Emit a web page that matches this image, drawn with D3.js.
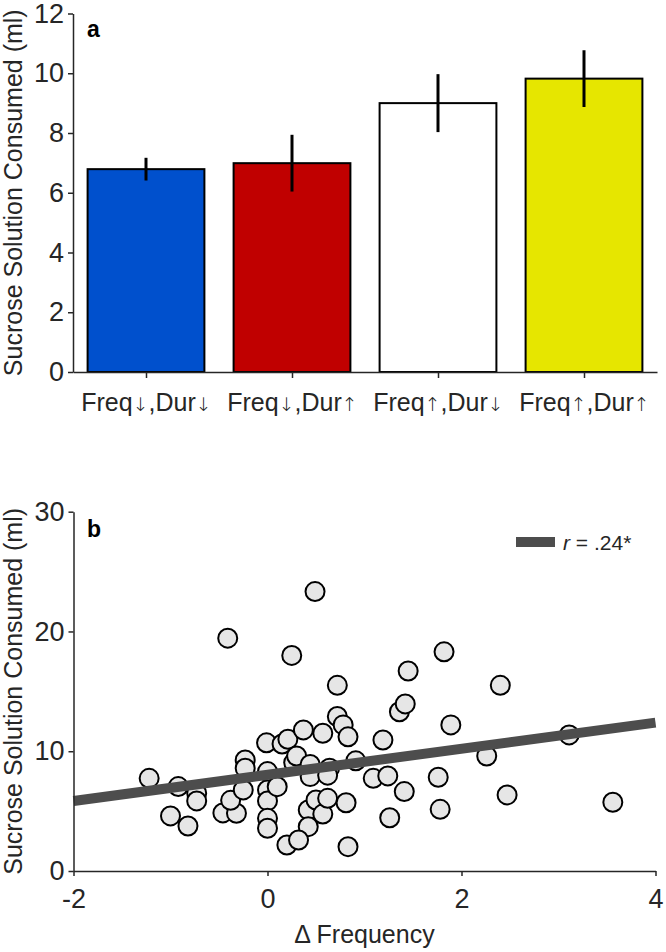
<!DOCTYPE html>
<html>
<head>
<meta charset="utf-8">
<script src="https://cdn.jsdelivr.net/npm/d3@7"></script>
<style>
  body { margin: 0; background: #fff; }
  svg { display: block; font-family: "Liberation Sans", Arial, Helvetica, sans-serif; }
</style>
</head>
<body>
<svg id="chart" width="666" height="952"></svg>
<script>
// panel a: group means with error bars
const groups = ["Freq\u2193,Dur\u2193", "Freq\u2193,Dur\u2191", "Freq\u2191,Dur\u2193", "Freq\u2191,Dur\u2191"];
const means = [6.79, 6.99, 9.0, 9.82];
const errors = [0.38, 0.95, 0.97, 0.95];
const barColors = ["#0050cd", "#c00000", "#ffffff", "#e6e600"];
const barTicks = [0, 2, 4, 6, 8, 10, 12];

// panel b: scatter of delta frequency vs sucrose consumed
const deltaFreq = [
  -1.22, -0.92, -1.0, -0.82, -0.73, -0.73, -0.46, -0.32, -0.38, -0.41, -0.23, -0.23, -0.25,
  -0.01, 0.0, 0.0, 0.0, 0.0, 0.0, 0.1, 0.15, 0.21, 0.37, 0.25, 0.49,
  0.27, 0.3, 0.44, 0.44, 0.42, 0.42, 0.2, 0.32, 0.5, 0.57, 0.62, 0.57, 0.64, 0.62,
  0.72, 0.78, 0.72, 0.83, 0.91, 0.81, 0.83, 1.09, 1.24, 1.19, 1.26, 1.41,
  1.36, 1.42, 1.45, 1.82, 1.89, 1.76, 1.78, 2.26, 2.4, 2.47, 3.11, 3.56
];
const sucrose = [
  7.74, 7.05, 4.6, 3.76, 6.49, 5.85, 4.85, 4.82, 5.9, 19.44, 9.27, 8.58, 6.77,
  10.7, 8.3, 6.77, 5.85, 4.4, 3.57, 7.04, 10.6, 11.0, 11.78, 18.0, 23.33,
  9.05, 9.6, 8.9, 7.88, 5.1, 3.7, 2.17, 2.59, 5.93, 4.75, 6.07, 11.5, 8.58, 8.0,
  12.9, 12.2, 15.5, 11.2, 9.2, 5.7, 2.03, 7.74, 7.94, 10.94, 4.45, 6.63,
  13.3, 13.95, 16.7, 18.3, 12.2, 7.83, 5.15, 9.6, 15.5, 6.35, 11.36, 5.74
];
const fitIntercept = 8.03;
const fitSlope = 1.09;
const scatterXTicks = [-2, 0, 2, 4];
const scatterYTicks = [0, 10, 20, 30];

const axisColor = "#262626";
const fontSize = 25;
const tickFont = 27;

const svg = d3.select("#chart");

function styleAxis(sel) {
  sel.select(".domain").attr("stroke", axisColor).attr("stroke-width", 1.5);
  sel.selectAll(".tick line").attr("stroke", axisColor).attr("stroke-width", 1.5);
  sel.selectAll(".tick text").attr("fill", axisColor).style("font-size", tickFont + "px");
}

// plain hyphen minus like the original figure
const plainNum = (d) => String(d);

// ---------- panel a ----------
const xa = d3.scaleLinear().domain([0.5, 4.5]).range([73, 657]);
const ya = d3.scaleLinear().domain([0, 12]).range([372, 13.5]);
const bandW = (xa(2) - xa(1)) * 0.8;

const ga = svg.append("g");

ga.selectAll("rect.bar").data(means).enter().append("rect").attr("class", "bar")
  .attr("x", (d, i) => xa(i + 1) - bandW / 2).attr("y", (d) => ya(d))
  .attr("width", bandW).attr("height", (d) => ya(0) - ya(d))
  .attr("fill", (d, i) => barColors[i]).attr("stroke", "#000").attr("stroke-width", 2);

ga.selectAll("line.err").data(means).enter().append("line").attr("class", "err")
  .attr("x1", (d, i) => xa(i + 1)).attr("x2", (d, i) => xa(i + 1))
  .attr("y1", (d, i) => ya(d - errors[i])).attr("y2", (d, i) => ya(d + errors[i]))
  .attr("stroke", "#000").attr("stroke-width", 3);

const xAxisA = ga.append("g").attr("transform", `translate(0,${ya(0)})`)
  .call(d3.axisBottom(xa).tickValues([1, 2, 3, 4]).tickFormat((d) => groups[d - 1]).tickSize(6).tickSizeOuter(0).tickPadding(15))
  .call(styleAxis);

// split labels so the arrows come from a font that has them
xAxisA.selectAll(".tick text").style("font-size", fontSize + "px").each(function (d) {
  const t = d3.select(this);
  const label = groups[d - 1];
  t.text(null);
  label.split(/([\u2191\u2193])/).filter((s) => s.length).forEach((part) => {
    const sp = t.append("tspan").text(part);
    if (part === "\u2191" || part === "\u2193") {
      sp.style("font-family", "'DejaVu Sans'").style("font-size", "19px").style("font-weight", "300");
    }
  });
});

ga.append("g").attr("transform", `translate(${xa(0.5)},0)`)
  .call(d3.axisLeft(ya).tickValues(barTicks).tickFormat(plainNum).tickSize(5).tickSizeOuter(0).tickPadding(4))
  .call(styleAxis);

ga.append("text").attr("transform", `translate(22,${(ya(0) + ya(12)) / 2}) rotate(-90)`)
  .attr("text-anchor", "middle").attr("fill", axisColor).style("font-size", fontSize + "px")
  .text("Sucrose Solution Consumed (ml)");

ga.append("text").attr("x", 87).attr("y", 37).attr("fill", "#000")
  .style("font-size", "23px").style("font-weight", "bold").text("a");

// ---------- panel b ----------
const xb = d3.scaleLinear().domain([-2, 4]).range([73.5, 655.5]);
const yb = d3.scaleLinear().domain([0, 30]).range([871, 511.7]);

const gb = svg.append("g");

const points = deltaFreq.map((x, i) => ({ x: x, y: sucrose[i] }));

gb.selectAll("circle").data(points).enter().append("circle")
  .attr("cx", (d) => xb(d.x)).attr("cy", (d) => yb(d.y)).attr("r", 9.5)
  .attr("fill", "#e6e6e6").attr("stroke", "#000").attr("stroke-width", 2);

gb.append("line")
  .attr("x1", xb(-2)).attr("y1", yb(fitIntercept + fitSlope * -2))
  .attr("x2", xb(4)).attr("y2", yb(fitIntercept + fitSlope * 4))
  .attr("stroke", "#4d4d4d").attr("stroke-width", 10);

gb.append("g").attr("transform", `translate(0,${yb(0)})`)
  .call(d3.axisBottom(xb).tickValues(scatterXTicks).tickFormat(plainNum).tickSize(5).tickSizeOuter(0).tickPadding(13))
  .call(styleAxis);

gb.append("g").attr("transform", `translate(${xb(-2)},0)`)
  .call(d3.axisLeft(yb).tickValues(scatterYTicks).tickFormat(plainNum).tickSize(5).tickSizeOuter(0).tickPadding(4))
  .call(styleAxis);

gb.append("text").attr("transform", `translate(22,${(yb(0) + yb(30)) / 2}) rotate(-90)`)
  .attr("text-anchor", "middle").attr("fill", axisColor).style("font-size", fontSize + "px")
  .text("Sucrose Solution Consumed (ml)");

gb.append("text").attr("x", (xb(-2) + xb(4)) / 2).attr("y", 943).attr("text-anchor", "middle")
  .attr("fill", axisColor).style("font-size", fontSize + "px").text("\u0394 Frequency");

gb.append("text").attr("x", 87).attr("y", 537).attr("fill", "#000")
  .style("font-size", "23px").style("font-weight", "bold").text("b");

// legend
const legend = gb.append("g").attr("transform", "translate(516,542)");
legend.append("line").attr("x1", 0).attr("x2", 39).attr("y1", 0).attr("y2", 0)
  .attr("stroke", "#4d4d4d").attr("stroke-width", 10);
const lt = legend.append("text").attr("x", 47).attr("y", 8).attr("fill", axisColor).style("font-size", "21px");
lt.append("tspan").style("font-style", "italic").text("r");
lt.append("tspan").text(" = .24*");
</script>
</body>
</html>
